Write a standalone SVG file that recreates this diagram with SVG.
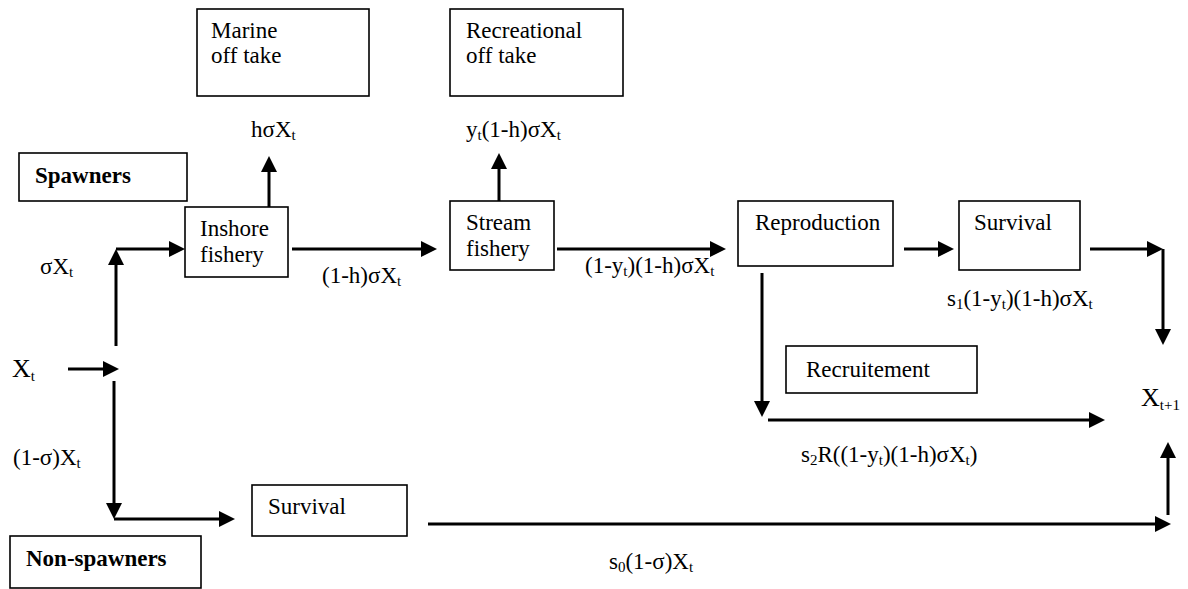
<svg xmlns="http://www.w3.org/2000/svg" width="1188" height="589" viewBox="0 0 1188 589">
<style>
  .box { fill: #ffffff; stroke: #000000; stroke-width: 1.6; }
  .lbl { font-family: "Liberation Serif", "Times New Roman", serif; font-size: 23px; fill: #000000; }
  .bold { font-weight: bold; }
  .big { font-size: 26px; }
  .sub { font-size: 15px; }
  .conn { fill: none; stroke: #000000; stroke-width: 3; stroke-linecap: butt; }
</style>
<defs>
  <marker id="arr" markerUnits="userSpaceOnUse" markerWidth="16" markerHeight="16" refX="6" refY="8" orient="auto">
    <path d="M0,0 L16,8 L0,16 Z" fill="#000000"/>
  </marker>
</defs>
<rect width="1188" height="589" fill="#ffffff"/>

<g id="marine-offtake">
  <rect class="box" x="197" y="9" width="172" height="87"/>
  <text class="lbl" x="211" y="38">Marine</text>
  <text class="lbl" x="211" y="63">off take</text>
</g>
<g id="recreational-offtake">
  <rect class="box" x="450" y="9" width="173" height="87"/>
  <text class="lbl" x="466" y="38">Recreational</text>
  <text class="lbl" x="466" y="63">off take</text>
</g>
<g id="spawners">
  <rect class="box" x="19" y="153" width="168" height="48"/>
  <text class="lbl bold" x="35" y="183">Spawners</text>
</g>
<g id="inshore-fishery">
  <rect class="box" x="185" y="207" width="103" height="70"/>
  <text class="lbl" x="200" y="236">Inshore</text>
  <text class="lbl" x="200" y="262">fishery</text>
</g>
<g id="stream-fishery">
  <rect class="box" x="450" y="201" width="104" height="69"/>
  <text class="lbl" x="466" y="230">Stream</text>
  <text class="lbl" x="466" y="256">fishery</text>
</g>
<g id="reproduction">
  <rect class="box" x="738" y="201" width="155" height="65"/>
  <text class="lbl" x="755" y="230">Reproduction</text>
</g>
<g id="survival-spawners">
  <rect class="box" x="959" y="201" width="121" height="69"/>
  <text class="lbl" x="974" y="230">Survival</text>
</g>
<g id="recruitement">
  <rect class="box" x="786" y="346" width="191" height="47"/>
  <text class="lbl" x="806" y="377">Recruitement</text>
</g>
<g id="survival-nonspawners">
  <rect class="box" x="252" y="485" width="155" height="51"/>
  <text class="lbl" x="268" y="514">Survival</text>
</g>
<g id="non-spawners">
  <rect class="box" x="10" y="536" width="191" height="52"/>
  <text class="lbl bold" x="26" y="566">Non-spawners</text>
</g>
<g id="xt">
  <text class="lbl big" x="12" y="377">X<tspan class="sub" dy="4">t</tspan></text>
</g>
<g id="xt1">
  <text class="lbl big" x="1141" y="406">X<tspan class="sub" dy="4">t+1</tspan></text>
</g>

<g id="connectors">
  <path class="conn" d="M68,369 L109,369" marker-end="url(#arr)"/>
  <path class="conn" d="M116,346 L116,259" marker-end="url(#arr)"/>
  <path class="conn" d="M116,249 L175,249" marker-end="url(#arr)"/>
  <path class="conn" d="M114,381 L114,509" marker-end="url(#arr)"/>
  <path class="conn" d="M114,519 L225,519" marker-end="url(#arr)"/>
  <path class="conn" d="M269,207 L269,166" marker-end="url(#arr)"/>
  <path class="conn" d="M292,249 L427,249" marker-end="url(#arr)"/>
  <path class="conn" d="M499,201 L499,163" marker-end="url(#arr)"/>
  <path class="conn" d="M557,249 L716,249" marker-end="url(#arr)"/>
  <path class="conn" d="M904,249 L944,249" marker-end="url(#arr)"/>
  <path class="conn" d="M1090,249 L1153,249" marker-end="url(#arr)"/>
  <path class="conn" d="M1163,249 L1163,335" marker-end="url(#arr)"/>
  <path class="conn" d="M762,273 L762,407" marker-end="url(#arr)"/>
  <path class="conn" d="M768,420 L1095,420" marker-end="url(#arr)"/>
  <path class="conn" d="M428,524 L1161,524" marker-end="url(#arr)"/>
  <path class="conn" d="M1168,515 L1168,452" marker-end="url(#arr)"/>
</g>

<g id="connector-labels">
  <text class="lbl" x="251" y="137">hσX<tspan class="sub" dy="3">t</tspan></text>
  <text class="lbl" x="466" y="137">y<tspan class="sub" dy="3">t</tspan><tspan dy="-3">(1-h)σX</tspan><tspan class="sub" dy="3">t</tspan></text>
  <text class="lbl" x="40" y="274">σX<tspan class="sub" dy="3">t</tspan></text>
  <text class="lbl" x="322" y="283">(1-h)σX<tspan class="sub" dy="3">t</tspan></text>
  <text class="lbl" x="585" y="273">(1-y<tspan class="sub" dy="3">t</tspan><tspan dy="-3">)(1-h)σX</tspan><tspan class="sub" dy="3">t</tspan></text>
  <text class="lbl" x="947" y="306">s<tspan class="sub" dy="3">1</tspan><tspan dy="-3">(1-y</tspan><tspan class="sub" dy="3">t</tspan><tspan dy="-3">)(1-h)σX</tspan><tspan class="sub" dy="3">t</tspan></text>
  <text class="lbl" x="801" y="462">s<tspan class="sub" dy="3">2</tspan><tspan dy="-3">R((1-y</tspan><tspan class="sub" dy="3">t</tspan><tspan dy="-3">)(1-h)σX</tspan><tspan class="sub" dy="3">t</tspan><tspan dy="-3">)</tspan></text>
  <text class="lbl" x="13" y="465">(1-σ)X<tspan class="sub" dy="3">t</tspan></text>
  <text class="lbl" x="609" y="569">s<tspan class="sub" dy="3">0</tspan><tspan dy="-3">(1-σ)X</tspan><tspan class="sub" dy="3">t</tspan></text>
</g>
</svg>
